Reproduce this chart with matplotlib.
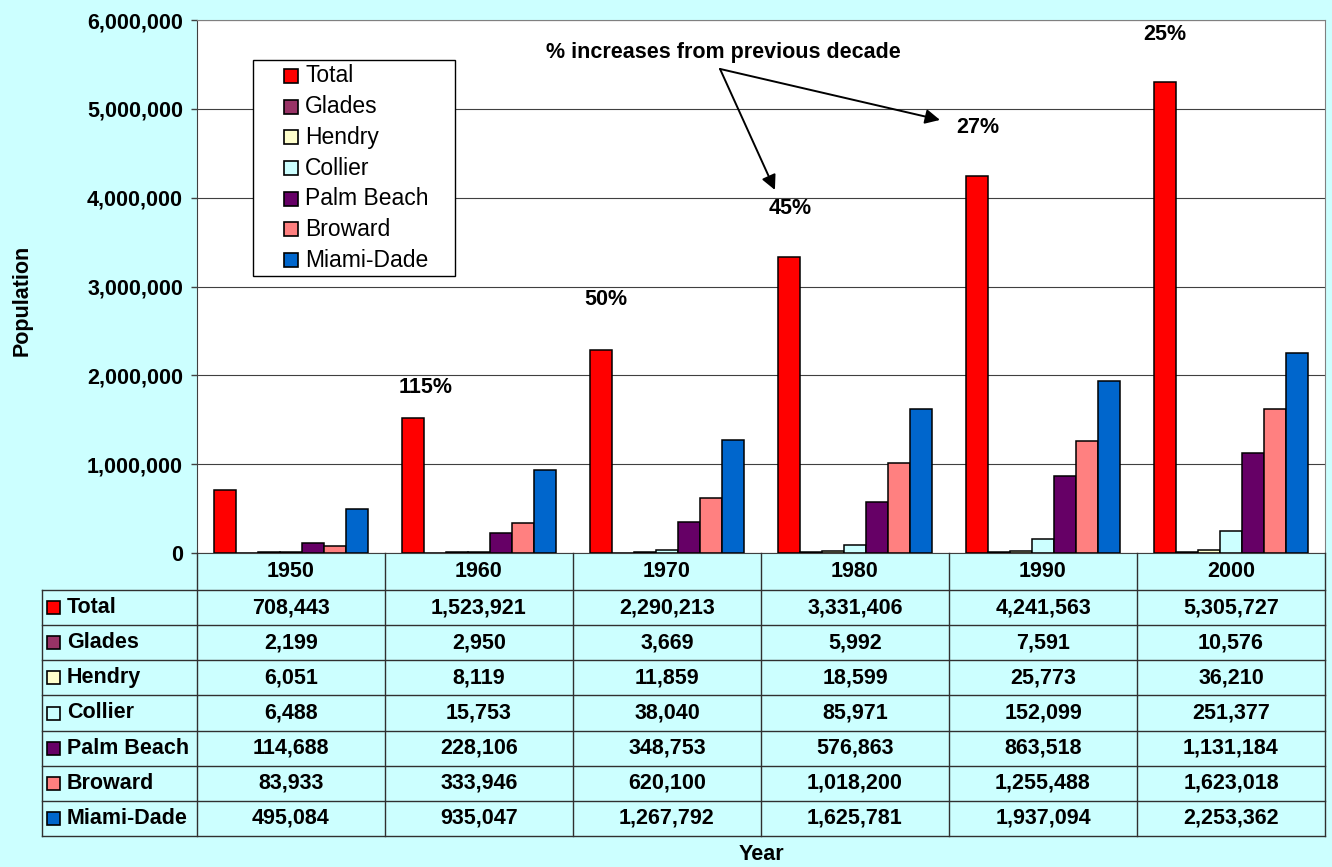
import matplotlib
matplotlib.use("Agg")
import matplotlib.pyplot as plt
from matplotlib.patches import Rectangle
from matplotlib.ticker import FuncFormatter
import numpy as np

plt.rcParams["font.family"] = ["Liberation Sans", "DejaVu Sans"]

# ── data ──────────────────────────────────────────────────────────────────────
years = ["1950", "1960", "1970", "1980", "1990", "2000"]
series = ["Total", "Glades", "Hendry", "Collier", "Palm Beach", "Broward", "Miami-Dade"]
total      = [708443, 1523921, 2290213, 3331406, 4241563, 5305727]
glades     = [2199, 2950, 3669, 5992, 7591, 10576]
hendry     = [6051, 8119, 11859, 18599, 25773, 36210]
collier    = [6488, 15753, 38040, 85971, 152099, 251377]
palm_beach = [114688, 228106, 348753, 576863, 863518, 1131184]
broward    = [83933, 333946, 620100, 1018200, 1255488, 1623018]
miami_dade = [495084, 935047, 1267792, 1625781, 1937094, 2253362]
values = [total, glades, hendry, collier, palm_beach, broward, miami_dade]
colors = ["#FF0000", "#993366", "#FFFFCC", "#CCFFFF", "#660066", "#FF8080", "#0066CC"]

BG = "#CCFFFF"
W, H = 1332, 867
FS = 15.5

fig = plt.figure(figsize=(W / 100, H / 100), dpi=100, facecolor=BG)

# plot area (pixels)
L, R, T, B = 197, 1325, 20, 553
ax = fig.add_axes([L / W, 1 - B / H, (R - L) / W, (B - T) / H])
ax.set_facecolor("white")

n = len(series)
w = 1 / (n + 1.5)
x = np.arange(len(years))
for i, (vals, c) in enumerate(zip(values, colors)):
    ax.bar(x + (i - (n - 1) / 2) * w, vals, w, color=c, edgecolor="black",
           linewidth=1.1, zorder=3)

ax.set_xlim(-0.5, len(years) - 0.5)
ax.set_ylim(0, 6e6)
ax.set_yticks(np.arange(0, 6e6 + 1, 1e6))
ax.yaxis.set_major_formatter(FuncFormatter(lambda v, p: f"{v:,.0f}"))
ax.set_xticks([])
ax.tick_params(axis="y", direction="out", length=4, width=1, color="#404040",
               labelsize=FS, pad=6)
for lbl in ax.get_yticklabels():
    lbl.set_fontweight("bold")
ax.grid(axis="y", color="#404040", linewidth=0.8, zorder=0)
ax.spines["left"].set_color("#404040")
ax.spines["bottom"].set_color("#404040")
ax.spines["top"].set_color("#808080")
ax.spines["right"].set_color("#808080")

# % increase labels above Total bars
pct_offsets = [(9, 22), (4, 36), (1, 35), (1, 35), (0, 34)]
for k in range(1, len(total)):
    pct = round((total[k] / total[k - 1] - 1) * 100)
    ax.annotate(f"{pct}%", xy=(x[k] - 3 * w, total[k]), xytext=pct_offsets[k - 1],
                textcoords="offset points", ha="center", va="center",
                fontsize=FS, fontweight="bold", zorder=5)

# note with arrows
ax.text(2.298, 5.629e6, "% increases from previous decade", ha="center", va="center",
        fontsize=FS, fontweight="bold", zorder=5)
for tip in [(2.574, 4.087e6), (3.452, 4.875e6)]:
    ax.annotate("", xy=tip, xytext=(2.282, 5.449e6),
                arrowprops=dict(arrowstyle="-|>", color="black", lw=1.4,
                                mutation_scale=22, shrinkA=0, shrinkB=0), zorder=5)

# ── overlay in pixel coords: legend + data table ─────────────────────────────
ov = fig.add_axes([0, 0, 1, 1], zorder=5)
ov.set_xlim(0, W)
ov.set_ylim(H, 0)
ov.axis("off")
ov.patch.set_alpha(0)

# legend
ov.add_patch(Rectangle((253, 60), 202, 216, facecolor="white", edgecolor="black", lw=1))
for i, (name, c) in enumerate(zip(series, colors)):
    cy = 76 + 30.67 * i
    ov.add_patch(Rectangle((284, cy - 7), 14, 14, facecolor=c, edgecolor="black", lw=1.2))
    ov.text(305, cy, name, ha="left", va="center", fontsize=16.5)

# table
TL, HB = 42, 590
row_h = (836 - HB) / n
col_w = (R - L) / len(years)
line_kw = dict(color="#303030", lw=1)
for k in range(len(years) + 1):
    ov.plot([L + k * col_w] * 2, [B, HB + n * row_h], **line_kw)
ov.plot([TL, TL], [HB, HB + n * row_h], **line_kw)
for r in range(n + 1):
    ov.plot([TL, R], [HB + r * row_h] * 2, **line_kw)

for k, yr in enumerate(years):
    ov.text(L + (k + 0.5) * col_w, (B + HB) / 2, yr, ha="center", va="center",
            fontsize=FS, fontweight="bold")
for r, (name, vals, c) in enumerate(zip(series, values, colors)):
    cy = HB + (r + 0.5) * row_h
    ov.add_patch(Rectangle((47, cy - 6.5), 13, 13, facecolor=c, edgecolor="black", lw=1.2))
    ov.text(67, cy, name, ha="left", va="center", fontsize=FS, fontweight="bold")
    for k, v in enumerate(vals):
        ov.text(L + (k + 0.5) * col_w, cy, f"{v:,}", ha="center", va="center",
                fontsize=FS, fontweight="bold")

# axis titles
ov.text(22, 300, "Population", rotation=90, ha="center", va="center",
        fontsize=FS, fontweight="bold")
ov.text((L + R) / 2, 855, "Year", ha="center", va="center", fontsize=FS, fontweight="bold")

fig.savefig("out.png", dpi=100, facecolor=BG)
